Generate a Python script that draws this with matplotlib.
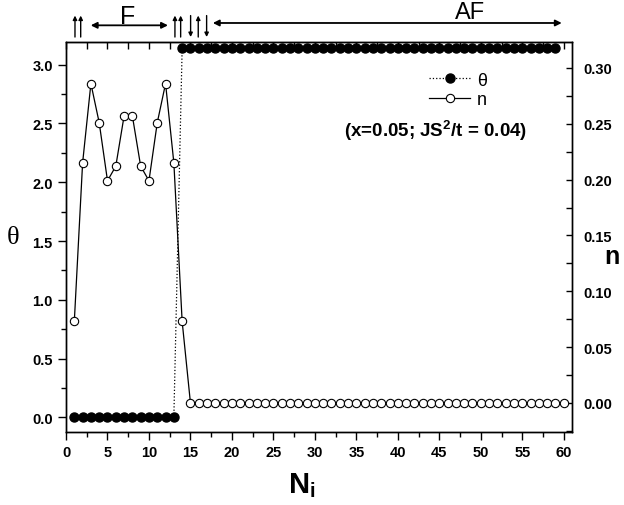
import numpy as np
import matplotlib.pyplot as plt
from matplotlib.ticker import MultipleLocator

plt.rcParams['font.family'] = ['Liberation Sans', 'DejaVu Sans']
plt.rcParams['mathtext.fontset'] = 'custom'
plt.rcParams['mathtext.rm'] = 'Liberation Sans'
plt.rcParams['mathtext.bf'] = 'Liberation Sans:bold'

# data
theta_sites = list(range(1, 60))
theta = [0.0] * 13 + [3.1416] * 46
n_sites = list(range(1, 61))
n = [0.073, 0.215, 0.286, 0.251, 0.199, 0.212, 0.257,
     0.257, 0.212, 0.199, 0.251, 0.286, 0.215, 0.073] + [0.0] * 46

# spin arrows above the plot: (site position, direction)
spins_x = [1.08, 1.77, 13.13, 13.82, 15.02, 15.94, 16.95]
spins_up = [True, True, True, True, False, True, False]

fig = plt.figure(figsize=(6.24, 5.06), dpi=100)
ax = fig.add_axes([0.1058, 0.1449, 0.8109, 0.7707])
ax2 = ax.twinx()

l1, = ax.plot(theta_sites, theta, ls=':', lw=0.9, color='black', marker='o',
              ms=6.5, mfc='black', mec='black')
l2, = ax2.plot(n_sites, n, ls='-', lw=0.9, color='black', marker='o',
               ms=6, mfc='white', mec='black', mew=0.8)

ax.set_xlim(0, 61)
ax.set_ylim(-0.1225, 3.196)
ax2.set_ylim(-0.0257, 0.3235)

ax.xaxis.set_major_locator(MultipleLocator(5))
ax.xaxis.set_minor_locator(MultipleLocator(2.5))
ax.yaxis.set_major_locator(MultipleLocator(0.5))
ax.yaxis.set_minor_locator(MultipleLocator(0.25))
ax2.yaxis.set_major_locator(MultipleLocator(0.05))
ax2.yaxis.set_minor_locator(MultipleLocator(0.025))
ax.yaxis.set_major_formatter('{x:.1f}')
ax2.yaxis.set_major_formatter('{x:.2f}')

ax.tick_params(axis='both', which='major', direction='out', length=6, width=1,
               labelsize=10.5)
ax.tick_params(axis='both', which='minor', direction='out', length=3.5, width=1)
ax2.tick_params(axis='y', which='major', direction='in', length=4, width=1,
                labelsize=10.5, pad=8)
ax2.tick_params(axis='y', which='minor', direction='in', length=4, width=1)

# top axis: ticks every 2.5 pointing inwards, no labels
top = ax.secondary_xaxis('top')
top.xaxis.set_major_locator(MultipleLocator(2.5))
top.tick_params(direction='in', length=5, width=1, labeltop=False)

for a in (ax, ax2):
    for s in a.spines.values():
        s.set_linewidth(1)
    for lab in a.get_xticklabels() + a.get_yticklabels():
        lab.set_fontweight('bold')

ax.set_ylabel('θ', fontsize=19, rotation=0, family='Liberation Serif',
              va='center', ha='center')
ax.yaxis.set_label_coords(-0.105, 0.5)
ax2.set_ylabel('n', fontsize=18, fontweight='bold', rotation=0, va='center')
ax2.yaxis.set_label_coords(1.078, 0.45)
ax.set_xlabel(r'$\mathbf{N_i}$', fontsize=21, va='center')
ax.xaxis.set_label_coords(0.466, -0.135)

leg = ax2.legend([l1, l2], ['θ', 'n'], loc='upper left',
                 bbox_to_anchor=(0.685, 0.965), frameon=False, fontsize=13,
                 handlelength=2.3, handletextpad=0.35, labelspacing=0.15)

ax2.text(0.73, 0.775, r'(x=0.05; JS$^\mathbf{2}$/t = 0.04)', transform=ax2.transAxes,
         ha='center', va='center', fontsize=13.5, fontweight='bold')

# spin configuration and region arrows above the axes
tr = ax.get_xaxis_transform()
for x, up in zip(spins_x, spins_up):
    y0, y1 = (1.012, 1.067) if up else (1.067, 1.012)
    ax.annotate('', xy=(x, y1), xytext=(x, y0), xycoords=tr, textcoords=tr,
                arrowprops=dict(arrowstyle='-|>', lw=1, color='black',
                                mutation_scale=6, shrinkA=0, shrinkB=0),
                annotation_clip=False)
ax.annotate('', xy=(2.98, 1.042), xytext=(12.29, 1.042), xycoords=tr,
            textcoords=tr, annotation_clip=False,
            arrowprops=dict(arrowstyle='<|-|>', lw=1.3, color='black',
                            mutation_scale=9, shrinkA=0, shrinkB=0))
ax.annotate('', xy=(17.7, 1.048), xytext=(59.76, 1.048), xycoords=tr,
            textcoords=tr, annotation_clip=False,
            arrowprops=dict(arrowstyle='<|-|>', lw=1.3, color='black',
                            mutation_scale=9, shrinkA=0, shrinkB=0))
ax.text(7.47, 1.066, 'F', transform=tr, ha='center', va='center', fontsize=18)
ax.text(48.7, 1.077, 'AF', transform=tr, ha='center', va='center', fontsize=17)

fig.savefig('out.png', dpi=100)
